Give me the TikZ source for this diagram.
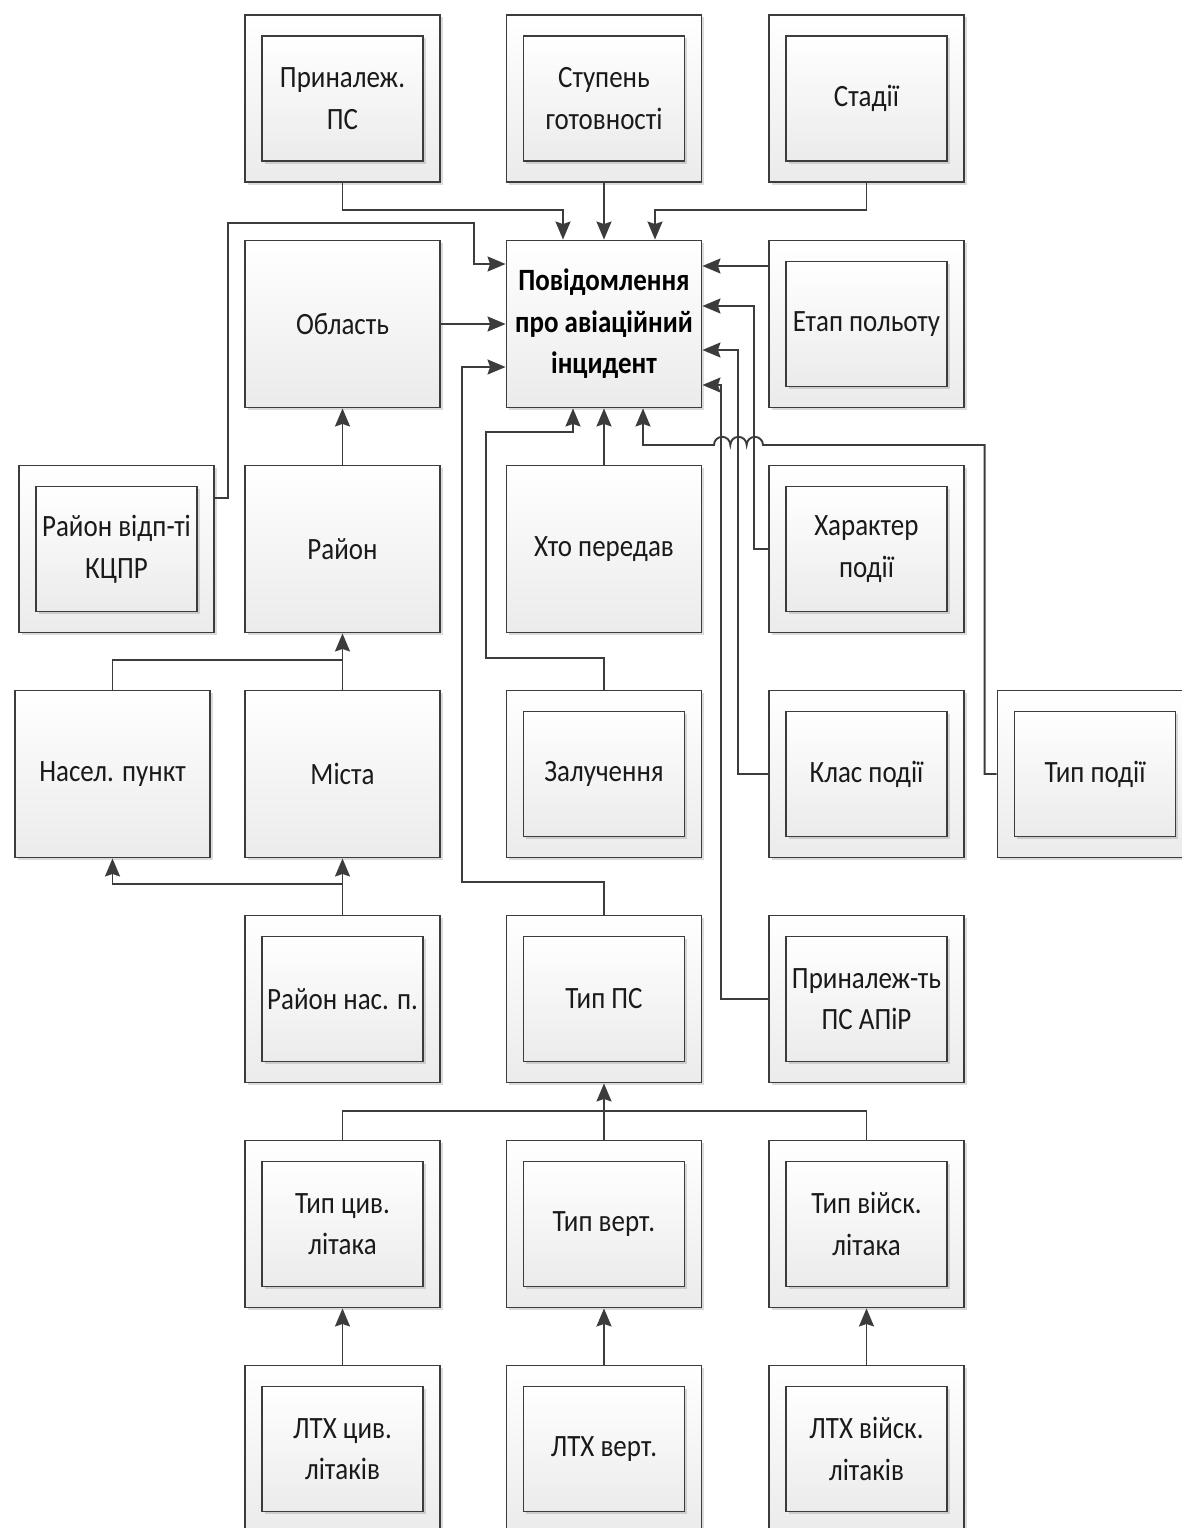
\documentclass[tikz,border=0pt]{standalone}
\usepackage{fontspec}
\setmainfont{Carlito}[FakeStretch=0.87]
\usetikzlibrary{arrows.meta,shadows}
\definecolor{lc}{HTML}{3C3C3C}
\definecolor{fillb}{HTML}{EBEBEB}
\definecolor{txt}{HTML}{1A1A1A}
\newcommand\boxfont{\fontsize{31}{41.5}\selectfont}
\begin{document}
\begin{tikzpicture}[x=1pt,y=-1pt,
  box/.style={draw=lc, line width=1.9pt, top color=white, bottom color=fillb,
    minimum width=195pt, minimum height=167pt, inner sep=0pt, align=center,
    text=txt, font=\boxfont,
    drop shadow={shadow xshift=2.5pt, shadow yshift=-2.5pt, opacity=0.2, fill=black!70}},
  inbox/.style={box, minimum width=161pt, minimum height=125pt},
  ln/.style={draw=lc, line width=1.9pt},
  arr/.style={ln, -{Stealth[length=18pt,width=15pt,inset=2.5pt]}}]
\useasboundingbox (0,0) rectangle (1182,1528);
\clip (0,0) rectangle (1182,1528);
\fill[white] (0,0) rectangle (1182,1528);
% row 0
\node[box] (prin) at (342.5,98.5) {};
\node[inbox] (prinI) at (prin) {Приналеж.\\ПС};
\node[box] (stup) at (604,98.5) {};
\node[inbox] (stupI) at (stup) {Ступень\\готовності};
\node[box] (stad) at (866.5,98.5) {};
\node[inbox] (stadI) at (stad) {Стадії};
% row 1
\node[box] (obl) at (342.5,324) {Область};
\node[box, font=\boxfont\bfseries, text=black] (main) at (604,324) {Повідомлення\\про авіаційний\\інцидент};
\node[box] (etap) at (866.5,324) {};
\node[inbox] (etapI) at (etap) {Етап польоту};
% row 2
\node[box] (kcpr) at (116.5,549) {};
\node[inbox] (kcprI) at (kcpr) {Район відп-ті\\КЦПР};
\node[box] (rayon) at (342.5,549) {Район};
\node[box] (hto) at (604,549) {Хто передав};
\node[box] (har) at (866.5,549) {};
\node[inbox] (harI) at (har) {Характер\\події};
% row 3
\node[box] (nasel) at (112.5,774) {Насел. пункт};
\node[box] (mista) at (342.5,774) {Міста};
\node[box] (zal) at (604,774) {};
\node[inbox] (zalI) at (zal) {Залучення};
\node[box] (klas) at (866.5,774) {};
\node[inbox] (klasI) at (klas) {Клас події};
\node[box] (tippod) at (1095,774) {};
\node[inbox] (tippodI) at (tippod) {Тип події};
% row 4
\node[box] (rnp) at (342.5,999) {};
\node[inbox] (rnpI) at (rnp) {Район нас. п.};
\node[box] (tipps) at (604,999) {};
\node[inbox] (tippsI) at (tipps) {Тип ПС};
\node[box] (apir) at (866.5,999) {};
\node[inbox] (apirI) at (apir) {Приналеж-ть\\ПС АПіР};
% row 5
\node[box] (tipc) at (342.5,1224) {};
\node[inbox] (tipcI) at (tipc) {Тип цив.\\літака};
\node[box] (tipvr) at (604,1224) {};
\node[inbox] (tipvrI) at (tipvr) {Тип верт.};
\node[box] (tipvk) at (866.5,1224) {};
\node[inbox] (tipvkI) at (tipvk) {Тип війск.\\літака};
% row 6
\node[box] (ltxc) at (342.5,1449) {};
\node[inbox] (ltxcI) at (ltxc) {ЛТХ цив.\\літаків};
\node[box] (ltxv) at (604,1449) {};
\node[inbox] (ltxvI) at (ltxv) {ЛТХ верт.};
\node[box] (ltxk) at (866.5,1449) {};
\node[inbox] (ltxkI) at (ltxk) {ЛТХ війск.\\літаків};
% connectors into main
\draw[arr] (prin.south) -- ++(0,27) -| ([xshift=-41pt]main.north);
\draw[arr] (stup.south) -- (main.north);
\draw[arr] (stad.south) -- ++(0,27) -| ([xshift=51pt]main.north);
\draw[arr] ([yshift=51pt]kcpr.east) -- ++(13,0) |- (474,223) |- ([yshift=60pt]main.west);
\draw[arr] (obl.east) -- (main.west);
\draw[arr] (tipps.north) -- ++(0,-33) -| (462,367) -- ([yshift=-43pt]main.west);
\draw[arr] (zal.north) -- ++(0,-32) -| (486,432) -| ([xshift=-31pt]main.south);
\draw[arr] (hto.north) -- (main.south);
\draw[arr] ([yshift=58pt]etap.west) -- ([yshift=58pt]main.east);
\draw[arr] (har.west) -- ++(-14,0) |- ([yshift=18pt]main.east);
\draw[arr] (klas.west) -- ++(-30.5,0) |- ([yshift=-26pt]main.east);
\draw[arr] (apir.west) -- ++(-47,0) |- ([yshift=-61pt]main.east);
\draw[arr] (tippod.west) -- ++(-12,0) |- (763,445)
  arc[start angle=0,end angle=180,radius=8.17pt]
  arc[start angle=0,end angle=180,radius=8.17pt]
  arc[start angle=0,end angle=180,radius=8.17pt]
  -| ([xshift=39pt]main.south);
% left hierarchy
\draw[arr] (rayon.north) -- (obl.south);
\draw[arr] (mista.north) -- (rayon.south);
\coordinate (j1) at (342.5,660);
\draw[ln] (nasel.north) |- (j1);
\draw[arr] (rnp.north) -- (mista.south);
\coordinate (j2) at (342.5,884);
\draw[arr] (j2) -| (nasel.south);
% aircraft types
\draw[arr] (tipvr.north) -- (tipps.south);
\draw[ln] (tipc.north) -- ++(0,-29) -| (tipvk.north);
\draw[arr] (ltxc.north) -- (tipc.south);
\draw[arr] (ltxv.north) -- (tipvr.south);
\draw[arr] (ltxk.north) -- (tipvk.south);
\end{tikzpicture}
\end{document}
